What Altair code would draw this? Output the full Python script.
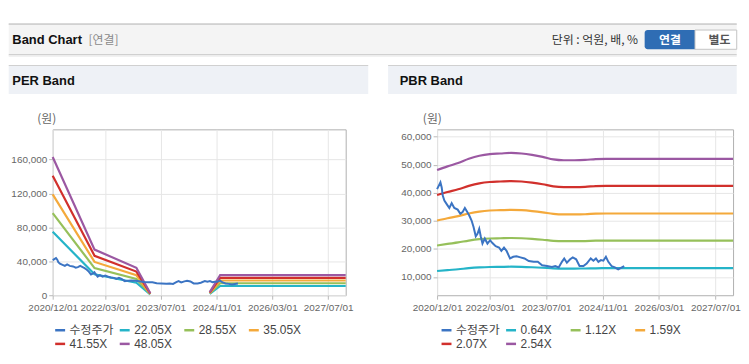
import altair as alt
import pandas as pd

# ---------------- data ----------------
series_names = ["수정주가"]
price_dates = [
    "2020-12-01", "2020-12-30", "2021-01-10", "2021-01-19", "2021-02-02", "2021-02-25",
    "2021-03-17", "2021-04-06", "2021-04-29", "2021-05-28", "2021-06-20", "2021-07-09",
    "2021-07-29", "2021-08-15", "2021-09-05", "2021-09-25", "2021-10-12", "2021-10-31",
    "2021-11-15", "2021-11-30", "2021-12-13", "2021-12-28", "2022-01-17", "2022-02-09",
    "2022-03-04", "2022-03-24", "2022-04-21", "2022-05-20", "2022-06-09", "2022-07-02",
    "2022-07-24", "2022-08-23", "2022-09-20", "2022-10-18", "2022-11-21", "2022-12-26",
    "2023-02-01", "2023-03-16", "2023-04-20", "2023-05-27", "2023-07-08", "2023-08-20",
    "2023-09-18", "2023-10-17", "2023-11-14", "2023-12-04", "2023-12-27", "2024-01-24",
    "2024-02-16", "2024-03-16", "2024-04-14", "2024-05-18", "2024-06-15", "2024-07-20",
    "2024-08-12", "2024-09-03", "2024-09-24", "2024-10-16", "2024-11-06", "2024-11-28",
    "2024-12-19", "2025-01-16", "2025-02-13", "2025-03-14", "2025-05-05",
]
price_values = [
    41300, 43700, 41900, 39000, 37200, 35800,
    34600, 36300, 34600, 34000, 32500, 33100,
    34600, 33400, 31900, 30100, 27800, 24500,
    25400, 27200, 24500, 21900, 23700, 21900,
    23100, 22100, 21000, 20500, 19300, 20500,
    19300, 16600, 17200, 17400, 17000, 16600,
    15700, 15400, 15400, 14200, 13900, 13600,
    13900, 13400, 15400, 16600, 15100, 16300,
    17000, 16300, 13900, 13900, 14800, 16600,
    15800, 16600, 15400, 16000, 15800, 17200,
    15400, 13900, 13400, 12700, 13900,
]

per_names = ["22.05X", "28.55X", "35.05X", "41.55X", "48.05X"]
per_dates_1 = ["2020-12-01", "2021-12-01", "2022-12-01", "2023-04-01"]
per_dates_2 = ["2024-09-01", "2024-12-01", "2027-12-01"]
per_2205_1 = [74840, 24700, 14820, 1100]
per_2855_1 = [96900, 31980, 19190, 1430]
per_3505_1 = [118960, 39260, 23550, 1750]
per_4155_1 = [141020, 46540, 27920, 2080]
per_4805_1 = [163080, 53820, 32290, 2400]
per_2205_2 = [1650, 10920, 10920]
per_2855_2 = [2140, 14130, 14130]
per_3505_2 = [2630, 17350, 17350]
per_4155_2 = [3120, 20570, 20570]
per_4805_2 = [3600, 23790, 23790]

pbr_names = ["0.64X", "1.12X", "1.59X", "2.07X", "2.54X"]
pbr_dates = [
    "2020-12-01", "2021-03-01", "2021-06-01", "2021-09-01", "2021-12-01", "2022-03-01",
    "2022-06-01", "2022-09-01", "2022-12-01", "2023-03-01", "2023-06-01", "2023-09-01",
    "2023-12-01", "2024-03-01", "2024-06-01", "2024-09-01", "2024-12-01", "2027-12-01",
]
pbr_064 = [12120, 12450, 12750, 13130, 13400, 13560, 13610, 13660, 13610, 13480, 13300, 13080, 13000, 13000, 13030, 13100, 13130, 13130]
pbr_112 = [21210, 21780, 22310, 22970, 23460, 23720, 23810, 23900, 23810, 23590, 23280, 22880, 22750, 22750, 22800, 22930, 22970, 22970]
pbr_159 = [30110, 30920, 31670, 32610, 33300, 33680, 33800, 33930, 33800, 33490, 33050, 32490, 32300, 32300, 32360, 32550, 32610, 32610]
pbr_207 = [39200, 40260, 41240, 42460, 43360, 43840, 44010, 44170, 44010, 43600, 43030, 42300, 42050, 42050, 42130, 42380, 42460, 42460]
pbr_254 = [48100, 49400, 50600, 52100, 53200, 53800, 54000, 54200, 54000, 53500, 52800, 51900, 51600, 51600, 51700, 52000, 52100, 52100]

x_ticks = ["2020-12-01", "2022-03-01", "2023-07-01", "2024-11-01", "2026-03-01", "2027-07-01"]
x_domain = ["2020-12-01", "2027-12-01"]
per_y_ticks = [0, 40000, 80000, 120000, 160000]
per_y_domain = [0, 195600]
pbr_y_ticks = [10000, 20000, 30000, 40000, 50000, 60000]
pbr_y_domain = [3500, 62600]

colors = ["#3b74c3", "#25b4c8", "#96c05a", "#f4a93b", "#d1302c", "#9b58a2"]

# ---------------- tables ----------------
def dt(s):
    y, m, d = s.split("-")
    return alt.DateTime(year=int(y), month=int(m), date=int(d), utc=True)

price_df = pd.DataFrame({"date": price_dates, "value": price_values,
                         "series": series_names[0], "seg": "p"})

rows = []
for name, v1, v2 in zip(per_names,
                        [per_2205_1, per_2855_1, per_3505_1, per_4155_1, per_4805_1],
                        [per_2205_2, per_2855_2, per_3505_2, per_4155_2, per_4805_2]):
    for d, v in zip(per_dates_1, v1):
        rows.append({"date": d, "value": v, "series": name, "seg": name + "a"})
    for d, v in zip(per_dates_2, v2):
        rows.append({"date": d, "value": v, "series": name, "seg": name + "b"})
per_df = pd.DataFrame(rows)

rows = []
for name, vals in zip(pbr_names, [pbr_064, pbr_112, pbr_159, pbr_207, pbr_254]):
    for d, v in zip(pbr_dates, vals):
        rows.append({"date": d, "value": v, "series": name, "seg": name})
pbr_df = pd.DataFrame(rows)

# ---------------- style ----------------
AXF = "Liberation Sans, Arial, sans-serif"
LGF = "Liberation Sans, Noto Sans CJK KR, sans-serif"
KRF = "Noto Sans CJK KR, sans-serif"
HDF = "Liberation Sans, Noto Sans CJK KR, sans-serif"
RIGHT = 741  # right edge of drawable page

one = pd.DataFrame({"k": [0]})


def deco_rect(ox, oy, x, y, x2, y2, **kw):
    return alt.Chart(one).mark_rect(**kw).encode(
        x=alt.value(x - ox), x2=alt.value(x2 - ox),
        y=alt.value(y - oy), y2=alt.value(y2 - oy))


def deco_text(ox, oy, s, x, y, **kw):
    return alt.Chart(one).mark_text(text=s, baseline="middle", **kw).encode(
        x=alt.value(x - ox), y=alt.value(y - oy))


def panel(band_df, band_names, ydom, yticks, w, h, interp, legend_x, extra):
    names = series_names + band_names
    xenc = alt.X("date:T",
                 scale=alt.Scale(type="utc", domain=[dt(x_domain[0]), dt(x_domain[1])]),
                 axis=alt.Axis(values=[dt(s) for s in x_ticks],
                               labelExpr="utcFormat(datum.value, '%Y/%m/%d')",
                               labelFont=AXF, labelFontSize=10,
                               labelColor="#666666", tickSize=4, tickColor="#b8b8b8",
                               labelPadding=3, domain=False, grid=True,
                               gridColor="#e6e6e6", labelFlush=False,
                               labelOverlap=False, title=None))
    yenc = alt.Y("value:Q",
                 scale=alt.Scale(domain=ydom, nice=False, zero=False),
                 axis=alt.Axis(values=yticks, labelExpr="format(datum.value, ',')",
                               labelFont=AXF, labelFontSize=10,
                               labelColor="#666666", tickSize=4, tickColor="#b8b8b8",
                               labelPadding=2, domain=False, grid=True,
                               gridColor="#e6e6e6", title=None))
    cenc = alt.Color("series:N",
                     scale=alt.Scale(domain=names, range=colors),
                     legend=alt.Legend(orient="none", legendX=legend_x, legendY=195.5,
                                       direction="horizontal",
                                       columns=4, gridAlign="all", columnPadding=0,
                                       rowPadding=1, padding=0, title=None,
                                       symbolType="stroke", symbolSize=100,
                                       symbolStrokeWidth=2.5, labelFont=LGF,
                                       labelFontSize=12, labelColor="#444444",
                                       labelOffset=3))
    bands = alt.Chart(band_df).mark_line(strokeWidth=2.2, interpolate=interp).encode(
        x=xenc, y=yenc, color=cenc, detail="seg:N")
    price = alt.Chart(price_df).mark_line(strokeWidth=2).encode(
        x=xenc, y=yenc, color=cenc, detail="seg:N")
    return alt.layer(*extra, bands, price).properties(width=w, height=h)


# ---------------- PER panel ----------------
OX1, OY1 = 52.3, 128.3
per_deco = [
    deco_rect(OX1, OY1, 8, 8, RIGHT, 354, fill="white", opacity=0),
    deco_rect(OX1, OY1, 8, 21.8, RIGHT, 22.9, fill="#b3b3b3"),
    deco_rect(OX1, OY1, 8, 22.9, RIGHT, 52.6, fill="#f4f4f4"),
    deco_rect(OX1, OY1, 8, 52.6, RIGHT, 53.6, fill="#c2c2c2"),
    deco_rect(OX1, OY1, 8, 53.6, RIGHT, 55.2, fill="#ececec"),
    deco_text(OX1, OY1, "Band Chart", 11.7, 38.3, font=HDF, fontSize=13,
              fontWeight="bold", color="#111111", align="left"),
    deco_text(OX1, OY1, "[연결]", 88.3, 38.5, font=KRF, fontSize=12,
              color="#8a8a8a", align="left"),
    deco_text(OX1, OY1, "단위 : 억원, 배, %", 641.7, 38.8, font=KRF, fontSize=12,
              color="#333333", align="right"),
    deco_rect(OX1, OY1, 648.3, 28.3, 699, 47.7, fill="#2f6db4",
              cornerRadiusTopLeft=3, cornerRadiusBottomLeft=3),
    deco_rect(OX1, OY1, 699, 28.3, RIGHT, 47.7, fill="white", stroke="#c4c4c4",
              strokeWidth=1),
    deco_text(OX1, OY1, "연결", 673.7, 38.2, font=KRF, fontSize=12, fontWeight="bold",
              color="white", align="center"),
    deco_text(OX1, OY1, "별도", 723.7, 38.2, font=KRF, fontSize=12, fontWeight="bold",
              color="#555555", align="center"),
    deco_rect(OX1, OY1, 8, 63.5, 370, 64.6, fill="#d0d0d0"),
    deco_rect(OX1, OY1, 8, 64.6, 370, 92.7, fill="#eef1f6"),
    deco_text(OX1, OY1, "PER Band", 11.7, 80, font=HDF, fontSize=13,
              fontWeight="bold", color="#111111", align="left"),
    deco_text(OX1, OY1, "(원)", 36.7, 118, font=KRF, fontSize=12,
              color="#666666", align="left"),
]
per_chart = panel(per_df, per_names, per_y_domain, per_y_ticks, 295, 167,
                  "linear", 1, per_deco)

# ---------------- PBR panel ----------------
OX2, OY2 = 439.3, 128.3
pbr_deco = [
    deco_rect(OX2, OY2, 390, 63.5, RIGHT, 64.6, fill="#d0d0d0"),
    deco_rect(OX2, OY2, 390, 64.6, RIGHT, 92.7, fill="#eef1f6"),
    deco_text(OX2, OY2, "PBR Band", 401.7, 80, font=HDF, fontSize=13,
              fontWeight="bold", color="#111111", align="left"),
    deco_text(OX2, OY2, "(원)", 425, 118, font=KRF, fontSize=12,
              color="#666666", align="left"),
]
pbr_chart = panel(pbr_df, pbr_names, pbr_y_domain, pbr_y_ticks, 298, 167,
                  "monotone", 3, pbr_deco)

chart = alt.hconcat(per_chart, pbr_chart, spacing=92, bounds="flush", padding=0) \
    .resolve_scale(color="independent") \
    .configure_view(stroke="#b0b0b0", strokeWidth=1, fill="white")

chart.save("out.html", embed_options={"renderer": "svg", "actions": False})
